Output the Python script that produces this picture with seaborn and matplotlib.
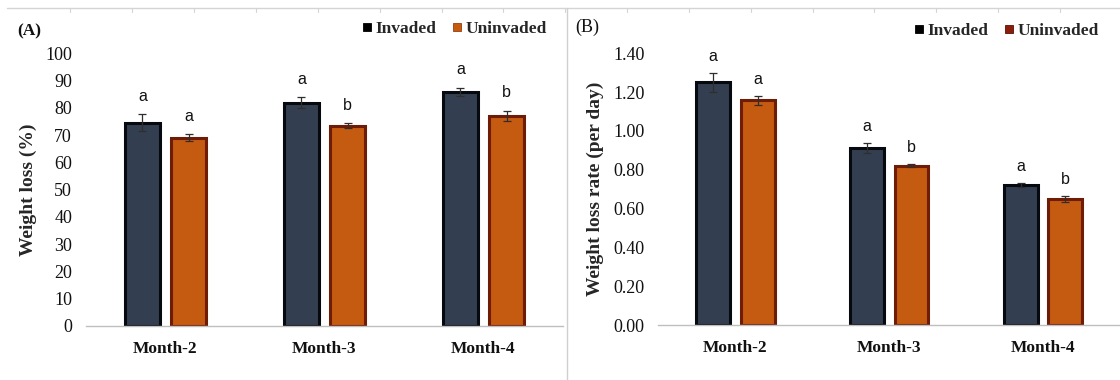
import matplotlib
matplotlib.use("Agg")
import matplotlib.pyplot as plt
from matplotlib.lines import Line2D
from matplotlib.font_manager import FontProperties
import pandas as pd
import seaborn as sns

# ---- data ----
months = ["Month-2", "Month-3", "Month-4"]
groups = ["Invaded", "Uninvaded"]

loss_invaded = [74.6, 81.9, 85.9]
loss_uninvaded = [69.0, 73.4, 77.1]
loss_err_invaded = [3.0, 2.0, 1.5]
loss_err_uninvaded = [1.3, 0.9, 1.8]
loss_letters_invaded = ["a", "a", "a"]
loss_letters_uninvaded = ["a", "b", "b"]
loss_ticks = [0, 10, 20, 30, 40, 50, 60, 70, 80, 90, 100]

rate_invaded = [1.250, 0.911, 0.722]
rate_uninvaded = [1.157, 0.821, 0.650]
rate_err_invaded = [0.050, 0.026, 0.011]
rate_err_uninvaded = [0.021, 0.008, 0.015]
rate_letters_invaded = ["a", "a", "a"]
rate_letters_uninvaded = ["a", "b", "b"]
rate_ticks = [0.0, 0.2, 0.4, 0.6, 0.8, 1.0, 1.2, 1.4]

# ---- style ----
sns.set_theme(style="white")
SERIF = "Liberation Serif"
SANS = "Liberation Sans"
plt.rcParams["font.family"] = [SERIF, "DejaVu Serif"]

fill = {"Invaded": "#333F50", "Uninvaded": "#C55A11"}
edge = {"Invaded": "#06090E", "Uninvaded": "#6E1C06"}

W, H = 1120, 380
fig = plt.figure(figsize=(W / 100, H / 100), dpi=100)


def px_box(left, right, y_bottom, y_top):
    return [left / W, 1 - y_bottom / H, (right - left) / W, (y_bottom - y_top) / H]


def draw_panel(ax, inv, uninv, err_inv, err_uninv, let_inv, let_uninv,
               ticks, fmt, ylabel, ylabel_x, legend_colors, legend_anchor,
               letter_offset):
    df = pd.DataFrame({
        "Month": months * 2,
        "Group": [groups[0]] * len(months) + [groups[1]] * len(months),
        "Value": list(inv) + list(uninv),
    })
    sns.barplot(data=df, x="Month", y="Value", hue="Group",
                order=months, hue_order=groups, palette=fill,
                saturation=1, width=0.58, gap=0.24, errorbar=None,
                linewidth=2.2, legend=False, ax=ax)

    for cont, grp, errs, letters in zip(ax.containers, groups,
                                         [err_inv, err_uninv],
                                         [let_inv, let_uninv]):
        for bar, e, lt in zip(cont, errs, letters):
            bar.set_edgecolor(edge[grp])
            xc = bar.get_x() + bar.get_width() / 2
            h = bar.get_height()
            ax.errorbar(xc, h, yerr=e, fmt="none", ecolor="#2E2E2E",
                        elinewidth=0.9, capsize=3, capthick=0.9, zorder=5)
            ax.annotate(lt, xy=(xc, h + e), xytext=(0, letter_offset),
                        textcoords="offset points", ha="center", va="center",
                        fontsize=11.5, family=SANS, color="#111111")

    ax.set_xlim(-0.5, 2.5)
    ax.set_ylim(ticks[0], ticks[-1])
    ax.set_yticks(ticks)
    ax.set_yticklabels([fmt.format(t) for t in ticks], fontsize=13)
    ax.set_xlabel("")
    ax.set_ylabel(ylabel, fontsize=14, fontweight="bold", family=SERIF)
    ax.yaxis.label.set_verticalalignment("center")
    ax.yaxis.set_label_coords(ylabel_x, 0.5)
    ax.tick_params(axis="y", length=0, pad=10, colors="#111111")
    ax.tick_params(axis="x", length=0, pad=11)
    for lab in ax.get_xticklabels():
        lab.set_fontweight("bold")
        lab.set_fontsize(12.5)
        lab.set_color("#111111")

    for side in ["top", "right", "left"]:
        ax.spines[side].set_visible(False)
    ax.spines["bottom"].set_color("#BFBFBF")
    ax.spines["bottom"].set_linewidth(1.0)

    handles = [Line2D([], [], marker="s", linestyle="none", markersize=5.5,
                      markerfacecolor=c, markeredgecolor=ec, markeredgewidth=0.6)
               for c, ec in legend_colors]
    ax.legend(handles, groups, ncol=2, loc="center right",
              bbox_to_anchor=legend_anchor, bbox_transform=fig.transFigure,
              frameon=False, handlelength=0.5, handletextpad=0.25,
              columnspacing=0.9, borderpad=0, borderaxespad=0,
              prop=FontProperties(family=SERIF, weight="bold", size=12.5))


axA = fig.add_axes(px_box(86, 563, 326, 53.3))
axB = fig.add_axes(px_box(658.3, 1120, 325, 53.3))

draw_panel(axA, loss_invaded, loss_uninvaded, loss_err_invaded,
           loss_err_uninvaded, loss_letters_invaded, loss_letters_uninvaded,
           loss_ticks, "{:.0f}", "Weight loss (%)", -0.12,
           [("#000000", "#000000"), ("#C55A11", "#9A3C0C")],
           (546.7 / W, 1 - 29 / H), 13)

draw_panel(axB, rate_invaded, rate_uninvaded, rate_err_invaded,
           rate_err_uninvaded, rate_letters_invaded, rate_letters_uninvaded,
           rate_ticks, "{:.2f}", "Weight loss rate (per day)", -0.137,
           [("#000000", "#000000"), ("#8B1E0A", "#5A1004")],
           (1098.6 / W, 1 - 31 / H), 12)

# panel tags
fig.text(17 / W, 1 - 31 / H, "(A)", fontsize=12.5, fontweight="bold",
         ha="left", va="center", color="#111111")
fig.text(575 / W, 1 - 27.5 / H, "(B)", fontsize=13,
         ha="left", va="center", color="#111111")

# sheet frame: top rule with small ticks and a divider between the panels
top_y = 1 - 7.5 / H
fig.add_artist(Line2D([7 / W, 1], [top_y, top_y], color="#D4D4D4",
                      lw=1.0, transform=fig.transFigure))
x = 70.4
while x < W:
    fig.add_artist(Line2D([x / W, x / W], [top_y, top_y - 4 / H],
                          color="#D4D4D4", lw=0.8, transform=fig.transFigure))
    x += 61.85
fig.add_artist(Line2D([566.7 / W, 566.7 / W], [0, top_y], color="#CFCFCF",
                      lw=1.0, transform=fig.transFigure))

fig.savefig("out.png", dpi=100)
